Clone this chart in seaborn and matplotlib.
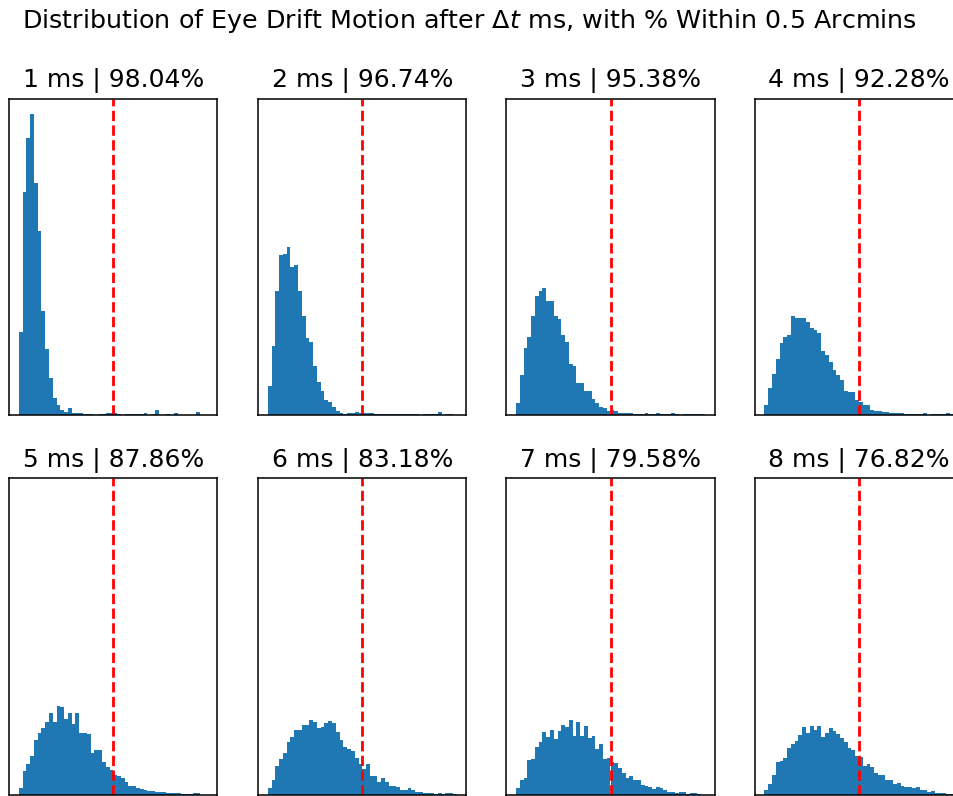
import numpy as np
import pandas as pd
import matplotlib
matplotlib.use("Agg")
import matplotlib.pyplot as plt
import seaborn as sns

# ---- data (bar heights, arbitrary count units) ----
n_bins = 50
x_range = (0.0, 1.0)
threshold = 0.5
titles = ["1 ms | 98.04%", "2 ms | 96.74%", "3 ms | 95.38%", "4 ms | 92.28%",
          "5 ms | 87.86%", "6 ms | 83.18%", "7 ms | 79.58%", "8 ms | 76.82%"]

counts_1ms = [245, 663, 822, 895, 690, 545, 310, 195, 110, 50,
              30, 15, 10, 22, 7, 7, 7, 3, 3, 3,
              1, 3, 3, 7, 7, 7, 3, 0, 3, 3,
              3, 3, 3, 7, 0, 3, 15, 0, 0, 3,
              0, 7, 0, 0, 0, 0, 0, 10, 0, 0]
counts_2ms = [87, 205, 368, 475, 478, 499, 440, 445, 368, 295,
              230, 217, 145, 98, 70, 45, 38, 25, 13, 7,
              2, 7, 7, 10, 7, 7, 7, 7, 3, 3,
              3, 3, 3, 3, 3, 3, 3, 3, 3, 3,
              0, 3, 3, 3, 3, 8, 0, 3, 3, 0]
counts_3ms = [37, 118, 200, 233, 295, 353, 368, 377, 339, 339,
              295, 285, 238, 218, 150, 145, 95, 95, 72, 72,
              47, 35, 25, 22, 12, 15, 12, 7, 5, 7,
              7, 3, 3, 3, 7, 3, 3, 7, 3, 3,
              3, 7, 3, 0, 3, 3, 3, 3, 3, 3]
counts_4ms = [30, 80, 122, 165, 215, 233, 237, 295, 289, 287,
              287, 277, 259, 253, 243, 190, 178, 157, 133, 118,
              105, 70, 68, 68, 45, 40, 30, 30, 15, 13,
              13, 10, 10, 5, 7, 7, 7, 3, 3, 3,
              3, 3, 7, 0, 3, 3, 3, 3, 7, 3]
counts_5ms = [19, 69, 91, 114, 161, 184, 196, 216, 242, 216,
              264, 259, 224, 242, 209, 242, 182, 182, 179, 122,
              131, 131, 96, 81, 72, 59, 54, 49, 36, 24,
              26, 19, 16, 14, 11, 9, 6, 6, 8, 4,
              4, 4, 4, 2, 2, 2, 4, 4, 0, 0]
counts_6ms = [19, 42, 84, 104, 122, 157, 172, 192, 192, 207,
              207, 222, 216, 196, 199, 211, 219, 212, 186, 161,
              142, 136, 129, 109, 92, 76, 92, 56, 56, 37,
              49, 37, 26, 24, 21, 14, 14, 19, 14, 7,
              7, 4, 4, 4, 2, 4, 2, 4, 4, 2]
counts_7ms = [19, 42, 49, 101, 106, 141, 156, 187, 172, 192,
              164, 189, 207, 199, 222, 174, 216, 174, 202, 167,
              174, 134, 149, 104, 109, 96, 94, 79, 64, 49,
              56, 42, 42, 29, 26, 22, 16, 21, 19, 14,
              7, 7, 4, 7, 7, 2, 4, 4, 2, 0]
counts_8ms = [14, 31, 57, 96, 99, 107, 138, 149, 159, 176,
              199, 182, 204, 192, 204, 172, 182, 196, 189, 181,
              167, 156, 139, 132, 114, 112, 84, 91, 82, 64,
              59, 59, 42, 42, 32, 34, 24, 22, 22, 19,
              22, 14, 12, 7, 9, 4, 4, 4, 2, 2]

all_counts = [counts_1ms, counts_2ms, counts_3ms, counts_4ms,
              counts_5ms, counts_6ms, counts_7ms, counts_8ms]
bin_width = (x_range[1] - x_range[0]) / n_bins
bin_centers = x_range[0] + bin_width * (np.arange(n_bins) + 0.5)

# ---- figure ----
W, H = 954, 796
fig = plt.figure(figsize=(W / 100, H / 100), dpi=100)

col_left = [9.3, 258.3, 506.5, 755.0]
row_top = [98.5, 478.0]
ax_w, ax_h = 208.0, 316.5

axes = []
for i in range(8):
    r, c = divmod(i, 4)
    rect = [col_left[c] / W, 1 - (row_top[r] + ax_h) / H, ax_w / W, ax_h / H]
    kw = {}
    if axes:
        kw = dict(sharex=axes[0], sharey=axes[0])
    ax = fig.add_axes(rect, **kw)
    axes.append(ax)

for ax, counts, title in zip(axes, all_counts, titles):
    df = pd.DataFrame({"drift": bin_centers, "n": counts})
    sns.histplot(data=df, x="drift", weights="n", binwidth=bin_width,
                 binrange=x_range, ax=ax,
                 color="#1f77b4", alpha=1.0, linewidth=0, edgecolor="none")
    ax.axvline(threshold, color="red", linestyle="--", linewidth=2.0)
    ax.set_title(title, fontsize=18, pad=8)
    ax.set_xticks([])
    ax.set_yticks([])
    ax.set_xlabel("")
    ax.set_ylabel("")
    for s in ax.spines.values():
        s.set_linewidth(1.1)
        s.set_color("black")

fig.text(469 / W, 1 - 21 / H,
         r"Distribution of Eye Drift Motion after $\Delta t$ ms, with % Within 0.5 Arcmins",
         ha="center", va="center", fontsize=18.3)

fig.savefig("out.png", dpi=100)
